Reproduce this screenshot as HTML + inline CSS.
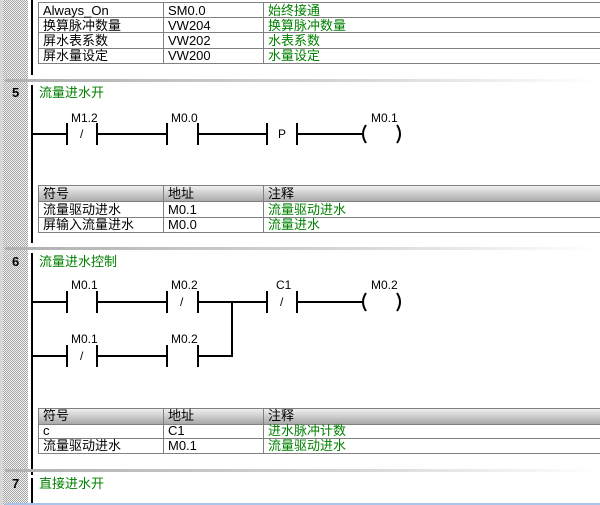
<!DOCTYPE html>
<html><head><meta charset="utf-8"><style>
body{margin:0;width:600px;height:505px;overflow:hidden;background:#fff;font-family:"Liberation Sans","Noto Sans CJK SC",sans-serif;}
.g{position:absolute;left:3px;top:0;width:25px;height:505px;background:repeating-conic-gradient(#a8a8a8 0 25%,#f0f0f0 0 50%) 0 0/2px 2px;}
</style></head><body>
<div style="position:absolute;left:0;top:0;width:3px;height:505px;background:#d8d8d8"></div>
<div class="g"></div>
<svg width="600" height="505" style="position:absolute;left:0;top:0" font-family="Liberation Sans, Noto Sans CJK SC, sans-serif">
<defs>
<linearGradient id="hd" x1="0" y1="0" x2="0" y2="1"><stop offset="0" stop-color="#f4f4f4"/><stop offset="1" stop-color="#a8a8a8"/></linearGradient>
<linearGradient id="sep" x1="0" y1="0" x2="1" y2="0"><stop offset="0" stop-color="#b0b0b0"/><stop offset="0.6" stop-color="#d8d8d8"/><stop offset="1" stop-color="#fff"/></linearGradient>
</defs>
<g fill="#000" font-size="13">
<!-- rails -->
<rect x="31" y="0" width="2" height="75"/>
<rect x="31" y="85" width="2" height="158"/>
<rect x="31" y="253" width="2" height="222"/>
<rect x="31" y="478" width="2" height="27"/>
</g>
<!-- separators -->
<rect x="5" y="79" width="595" height="3" fill="url(#sep)"/>
<rect x="5" y="247" width="595" height="3" fill="url(#sep)"/>
<rect x="5" y="469" width="595" height="3" fill="url(#sep)"/>
<rect x="5" y="503" width="595" height="2" fill="#a8c4e8"/>
<!-- top table -->
<g stroke="#808080" stroke-width="1" fill="none">
<rect x="38.5" y="2.5" width="570" height="61"/>
<line x1="38" y1="17.5" x2="600" y2="17.5"/><line x1="38" y1="32.5" x2="600" y2="32.5"/><line x1="38" y1="48.5" x2="600" y2="48.5"/>
<line x1="163.5" y1="2" x2="163.5" y2="64"/><line x1="263.5" y1="2" x2="263.5" y2="64"/>
</g>
<g font-size="13">
<text x="43" y="15">Always_On</text><text x="168" y="15">SM0.0</text><text x="268" y="15" fill="#008000">始终接通</text>
<text x="43" y="30">换算脉冲数量</text><text x="168" y="30">VW204</text><text x="268" y="30" fill="#008000">换算脉冲数量</text>
<text x="43" y="45">屏水表系数</text><text x="168" y="45">VW202</text><text x="268" y="45" fill="#008000">水表系数</text>
<text x="43" y="60">屏水量设定</text><text x="168" y="60">VW200</text><text x="268" y="60" fill="#008000">水量设定</text>
<text x="12" y="97" font-weight="bold">5</text>
<text x="39" y="97" fill="#008000">流量进水开</text>
<text x="12" y="266" font-weight="bold">6</text>
<text x="39" y="266" fill="#008000">流量进水控制</text>
<text x="12" y="488" font-weight="bold">7</text>
<text x="39" y="488" fill="#008000">直接进水开</text>
</g>
<!-- network 5 rung -->
<g stroke="#000" stroke-width="2" fill="none">
<path d="M33 134H67M67 123V145M97 123V145M97 134H167M167 123V145M198 123V145M198 134H267M267 123V145M297 123V145M297 134H362"/>
<path d="M366 125Q360 134 366 143M397 125Q403 134 397 143"/>
</g>
<g font-size="12">
<text x="71" y="122">M1.2</text><text x="171" y="122">M0.0</text><text x="371" y="122">M0.1</text>
<text x="80" y="138">/</text><text x="278" y="138">P</text>
</g>
<!-- table 5 -->
<rect x="38" y="185" width="562" height="17" fill="url(#hd)"/>
<g stroke="#808080" fill="none">
<rect x="38.5" y="185.5" width="570" height="47"/>
<line x1="38" y1="201.5" x2="600" y2="201.5"/><line x1="38" y1="217.5" x2="600" y2="217.5"/>
<line x1="163.5" y1="185" x2="163.5" y2="233"/><line x1="263.5" y1="185" x2="263.5" y2="233"/>
</g>
<g font-size="13">
<text x="43" y="198">符号</text><text x="168" y="198">地址</text><text x="268" y="198">注释</text>
<text x="43" y="214">流量驱动进水</text><text x="168" y="214">M0.1</text><text x="268" y="214" fill="#008000">流量驱动进水</text>
<text x="43" y="229">屏输入流量进水</text><text x="168" y="229">M0.0</text><text x="268" y="229" fill="#008000">流量进水</text>
</g>
<!-- network 6 rungs -->
<g stroke="#000" stroke-width="2" fill="none">
<path d="M33 302H67M67 291V313M97 291V313M97 302H167M167 291V313M198 291V313M198 302H267M267 291V313M297 291V313M297 302H362"/>
<path d="M366 293Q360 302 366 311M397 293Q403 302 397 311"/>
<path d="M33 356H67M67 345V367M97 345V367M97 356H167M167 345V367M198 345V367M198 356H232V302"/>
</g>
<g font-size="12">
<text x="71" y="289">M0.1</text><text x="171" y="289">M0.2</text><text x="276" y="289">C1</text><text x="371" y="289">M0.2</text>
<text x="71" y="343">M0.1</text><text x="171" y="343">M0.2</text>
<text x="180" y="306">/</text><text x="280" y="306">/</text><text x="80" y="360">/</text>
</g>
<!-- table 6 -->
<rect x="38" y="408" width="562" height="16" fill="url(#hd)"/>
<g stroke="#808080" fill="none">
<rect x="38.5" y="408.5" width="570" height="45"/>
<line x1="38" y1="424.5" x2="600" y2="424.5"/><line x1="38" y1="438.5" x2="600" y2="438.5"/>
<line x1="163.5" y1="408" x2="163.5" y2="454"/><line x1="263.5" y1="408" x2="263.5" y2="454"/>
</g>
<g font-size="13">
<text x="43" y="420">符号</text><text x="168" y="420">地址</text><text x="268" y="420">注释</text>
<text x="43" y="435">c</text><text x="168" y="435">C1</text><text x="268" y="435" fill="#008000">进水脉冲计数</text>
<text x="43" y="450">流量驱动进水</text><text x="168" y="450">M0.1</text><text x="268" y="450" fill="#008000">流量驱动进水</text>
</g>
</svg>
</body></html>
